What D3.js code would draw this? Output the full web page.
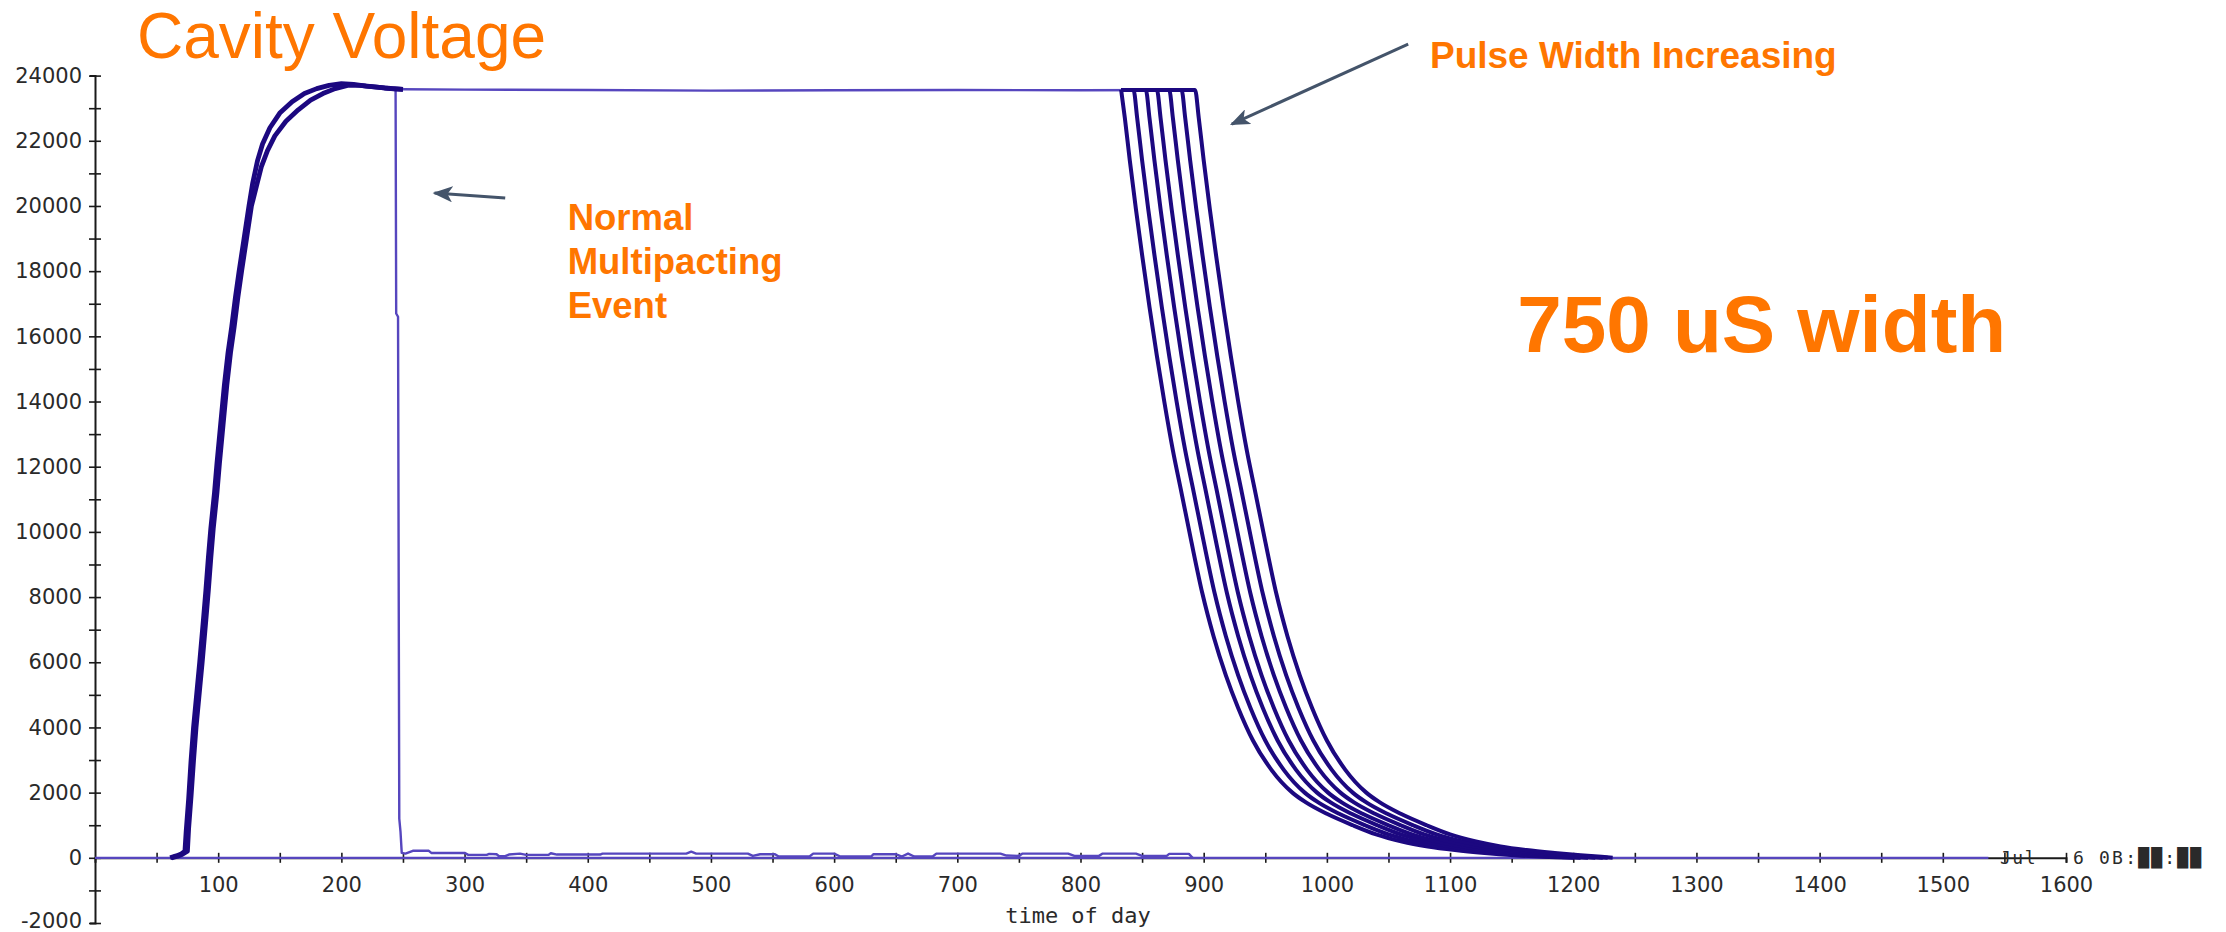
<!DOCTYPE html>
<html><head><meta charset="utf-8">
<script src="https://cdn.jsdelivr.net/npm/d3@7"></script>
<style>body{margin:0;background:#fff;}svg{display:block;}</style>
</head><body>
<svg id="chart" width="2226" height="932"></svg>
<script>
// ---------------- DATA ----------------
const xDomain = [0, 1600];
const yDomain = [-2000, 24000];
const xTickValues = [50,100,150,200,250,300,350,400,450,500,550,600,650,700,750,800,850,900,950,1000,1050,1100,1150,1200,1250,1300,1350,1400,1450,1500,1550,1600];
const xTickLabels = ["100","200","300","400","500","600","700","800","900","1000","1100","1200","1300","1400","1500","1600"];
const yTickValues = [-2000,-1000,0,1000,2000,3000,4000,5000,6000,7000,8000,9000,10000,11000,12000,13000,14000,15000,16000,17000,18000,19000,20000,21000,22000,23000,24000];
const yTickLabels = ["-2000","0","2000","4000","6000","8000","10000","12000","14000","16000","18000","20000","22000","24000"];

// common rise of all pulses (upper-left and lower-right edge of the thick band)
const riseUpperT = [61,66,70,73,74,76,78,80,83,85,88,90,92,94,97,99,102,105,108,111,114,117,121,125,128,132,136,142,150,160,170,180,190,200,210,220,235,250];
const riseUpperV = [0,60,120,200,800,1800,3000,4000,5200,6000,7300,8200,9200,10100,11200,12100,13300,14500,15500,16300,17200,18000,19000,20000,20700,21400,21900,22400,22850,23200,23450,23600,23700,23750,23730,23680,23620,23580];
const riseLowerT = [62,67,71,75,76,78,80,82,85,87,90,92,94,96,99,101,104,107,110,113,116,119,123,127,131,135,140,146,155,165,175,185,195,205,215,225,240,250];
const riseLowerV = [0,50,110,200,900,1900,3000,4000,5200,6000,7300,8200,9200,10100,11200,12100,13300,14500,15500,16300,17200,18000,19000,20000,20600,21200,21700,22150,22600,22950,23250,23450,23600,23700,23700,23660,23600,23580];

// flat top of the pulses
const plateauT = [250,300,400,500,600,700,800,893];
const plateauV = [23580,23570,23560,23540,23550,23560,23550,23560];

// multipacting pulse: sudden collapse, then residual noise
const mpT = [244,244.5,246,247,248,249,252,258,271,273,300,303,318,320,326,328,333,336,345,350,368,370,375,410,412,480,484,488,530,534,540,552,555,580,583,600,605,630,632,650,655,660,665,680,683,735,740,750,753,790,795,815,818,845,850,870,872,888,891];
const mpV = [23570,16700,16600,1200,800,150,130,215,215,150,150,90,90,120,110,50,50,100,130,90,90,140,100,100,130,130,190,130,130,60,110,110,40,40,130,130,40,40,110,110,40,130,40,40,130,130,70,60,130,130,60,60,130,130,60,60,120,120,0];

// zero line of the trace
const baselineT = [0, 1537];
const baselineV = [0, 0];

// fall of the seven pulses of increasing width: time at which each crosses each level
const decayStart = 833;
const decayLevels = [23560,22700,21400,19900,18500,16900,15400,14000,12500,11200,9700,8100,6800,5600,4600,3600,2700,2000,1700,1350,1000,720,500,350,240,150,80,30,0];
const decayTimes0 = [833,836,840,845,850,856,862,868,875,882,890,899,908,918,928,940,955,972,983,1000,1021,1040,1061,1082,1104,1128,1152,1176,1200];
const decayTimes1 = [843,846,850,855,860,866,872,878,885,892,900,909,918,928,938,950,965,982,993,1010,1031,1050,1071,1092,1113,1137,1161,1185,1206];
const decayTimes2 = [853,856,860,865,870,876,882,888,895,902,910,919,928,938,948,960,975,992,1003,1020,1041,1060,1081,1101,1122,1146,1170,1193,1212];
const decayTimes3 = [862,865,869,874,879,885,891,897,904,911,919,928,937,947,957,969,984,1001,1012,1029,1050,1069,1090,1110,1131,1155,1178,1201,1218];
const decayTimes4 = [872,875,879,884,889,895,901,907,914,921,929,938,947,957,967,979,994,1011,1022,1039,1060,1079,1100,1120,1141,1165,1187,1209,1224];
const decayTimes5 = [882,885,889,894,899,905,911,917,924,931,939,948,957,967,977,989,1004,1021,1032,1049,1070,1089,1110,1130,1151,1174,1196,1215,1228];
const decayTimes6 = [893,896,900,905,910,916,922,928,935,942,950,959,968,978,988,1000,1015,1032,1043,1060,1081,1100,1121,1141,1162,1185,1206,1223,1232];
const decayTimes = [decayTimes0,decayTimes1,decayTimes2,decayTimes3,decayTimes4,decayTimes5,decayTimes6];

// annotations (data coordinates)
const arrowFrom = [[333,20242],[1066,24966]];
const arrowTo   = [[275.6,20396],[922.8,22512]];
const noteLines = ["Normal","Multipacting","Event"];
const noteAnchor = [383.7, 19252];
const pulseNote = "Pulse Width Increasing";
const pulseAnchor = [1083.7, 24234];
const widthNote = "750 uS width";
const widthAnchor = [1154.5, 15520];
const titleText = "Cavity Voltage";
const xAxisTitle = "time of day";

// ---------------- DRAW ----------------
const svg = d3.select("#chart");
svg.append("rect").attr("width",2226).attr("height",932).attr("fill","#fff");

const x = d3.scaleLinear().domain(xDomain).range([95, 2066]);
const y = d3.scaleLinear().domain(yDomain).range([923, 75.6]);

const DARK = "#1c0880", THIN = "#5646be", AXIS = "#1a1a1a", ORANGE = "#ff7600", ARROW = "#44546a";

// x axis
const gx = svg.append("g").attr("transform", `translate(0,${y(0)})`)
  .call(d3.axisBottom(x).tickValues(xTickValues).tickSize(5)
        .tickFormat(d => xTickLabels.includes(String(d)) ? String(d) : ""));
gx.select(".domain").attr("stroke", AXIS).attr("stroke-width", 2);
gx.selectAll(".tick line").attr("stroke", AXIS).attr("stroke-width", 1.6).attr("y1",-5).attr("y2",5);
gx.selectAll(".tick text").attr("y", 19).attr("dy","0.71em")
  .attr("font-family","DejaVu Sans, Verdana, sans-serif").attr("font-size",21).attr("fill","#2a2a2a");

// y axis
const gy = svg.append("g").attr("transform", `translate(${x(0)},0)`)
  .call(d3.axisLeft(y).tickValues(yTickValues).tickSize(5)
        .tickFormat(d => yTickLabels.includes(String(d)) ? String(d) : ""));
gy.select(".domain").attr("stroke", AXIS).attr("stroke-width", 2);
gy.selectAll(".tick line").attr("stroke", AXIS).attr("stroke-width", 1.6).attr("x1",-6).attr("x2",6);
gy.selectAll(".tick text").attr("x", -13)
  .attr("font-family","DejaVu Sans, Verdana, sans-serif").attr("font-size",21).attr("fill","#2a2a2a")
  .attr("dy", d => d === yDomain[0] ? "0.2em" : "0.32em");

// x axis title
svg.append("text").attr("x", 1078).attr("y", 923).attr("text-anchor","middle")
  .attr("font-family","DejaVu Sans Mono, Liberation Mono, monospace").attr("font-size",22).attr("fill","#2a2a2a")
  .text(xAxisTitle);

// timestamp text at the end of the x axis
svg.append("text").attr("x", 2000).attr("y", y(0)).attr("dy","0.36em")
  .attr("font-family","DejaVu Sans Mono, monospace").attr("font-size",18).attr("letter-spacing",1.5)
  .attr("fill","#2a2a2a").text("Jul");
svg.append("text").attr("x", 2073).attr("y", y(0)).attr("dy","0.36em")
  .attr("font-family","DejaVu Sans Mono, monospace").attr("font-size",18).attr("letter-spacing",2.2)
  .attr("fill","#2a2a2a").text("6 0B:██:██");

const line = d3.line().x(d => x(d[0])).y(d => y(d[1]));
const smooth = d3.line().x(d => x(d[0])).y(d => y(d[1])).curve(d3.curveMonotoneX);
const zip = (a,b) => a.map((t,i) => [t,b[i]]);

// baseline
svg.append("path").attr("d", line(zip(baselineT, baselineV)))
  .attr("fill","none").attr("stroke",THIN).attr("stroke-width",2.2);

// plateau
svg.append("path").attr("d", line(zip(plateauT, plateauV)))
  .attr("fill","none").attr("stroke",THIN).attr("stroke-width",2.4);

// multipacting trace
svg.append("path").attr("d", line(zip(mpT, mpV)))
  .attr("fill","none").attr("stroke",THIN).attr("stroke-width",2.4).attr("stroke-linejoin","round");

// rise band
[zip(riseUpperT, riseUpperV), zip(riseLowerT, riseLowerV)].forEach(pts => {
  svg.append("path").attr("d", line(pts)).attr("fill","none")
    .attr("stroke",DARK).attr("stroke-width",4.8).attr("stroke-linejoin","round");
});

// decay traces
decayTimes.forEach(times => {
  const pts = [[decayStart, decayLevels[0]]].concat(zip(times, decayLevels));
  svg.append("path").attr("d", smooth(pts)).attr("fill","none")
    .attr("stroke",DARK).attr("stroke-width",4).attr("stroke-linejoin","round");
});

// arrows
const defs = svg.append("defs");
defs.append("marker").attr("id","ah").attr("viewBox","0 0 20 16").attr("refX",18).attr("refY",8)
  .attr("markerWidth",20).attr("markerHeight",16).attr("markerUnits","userSpaceOnUse").attr("orient","auto")
  .append("path").attr("d","M0,0 L20,8 L0,16 L5,8 Z").attr("fill",ARROW);
arrowFrom.forEach((f,i) => {
  const t = arrowTo[i];
  svg.append("line").attr("x1",x(f[0])).attr("y1",y(f[1])).attr("x2",x(t[0])).attr("y2",y(t[1]))
    .attr("stroke",ARROW).attr("stroke-width",3).attr("marker-end","url(#ah)");
});

// annotation texts
svg.append("text").attr("x",137).attr("y",58)
  .attr("font-family","Liberation Sans, Arial, sans-serif").attr("font-size",64).attr("fill",ORANGE)
  .text(titleText);
const nt = svg.append("text").attr("x", x(noteAnchor[0])).attr("y", y(noteAnchor[1]))
  .attr("font-family","Liberation Sans, Arial, sans-serif").attr("font-weight","bold").attr("font-size",36.5).attr("fill",ORANGE);
noteLines.forEach((s,i) => nt.append("tspan").attr("x", x(noteAnchor[0])).attr("dy", i===0?0:44).text(s));
svg.append("text").attr("x", x(pulseAnchor[0])).attr("y", y(pulseAnchor[1]))
  .attr("font-family","Liberation Sans, Arial, sans-serif").attr("font-weight","bold").attr("font-size",37).attr("fill",ORANGE)
  .text(pulseNote);
svg.append("text").attr("x", x(widthAnchor[0])).attr("y", y(widthAnchor[1]))
  .attr("font-family","Liberation Sans, Arial, sans-serif").attr("font-weight","bold").attr("font-size",80).attr("fill",ORANGE)
  .text(widthNote);
</script>
</body></html>
